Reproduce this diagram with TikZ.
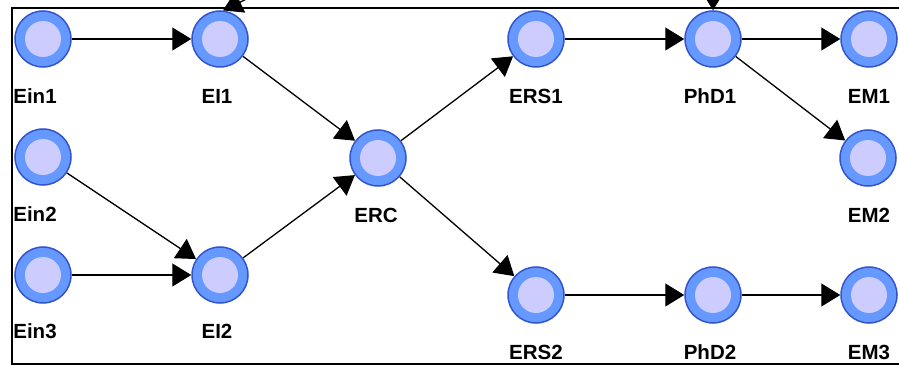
\documentclass[tikz,border=0pt]{standalone}
\usepackage{fontspec}
\setmainfont{Liberation Sans}
\usepackage{tikz}
\usetikzlibrary{arrows.meta,positioning,calc}
\definecolor{ringblue}{RGB}{102,153,255}
\definecolor{edgeblue}{RGB}{51,85,204}
\definecolor{corelav}{RGB}{204,204,255}

\begin{document}
\begin{tikzpicture}[x=1pt,y=-1pt,
    state/.style={circle,draw=edgeblue,line width=1.5pt,fill=ringblue,minimum size=56pt,inner sep=0pt,
        path picture={\fill[corelav] (path picture bounding box.center) circle (18pt);}},
    lbl/.style={font=\bfseries\fontsize{20.5}{20.5}\selectfont,inner sep=0pt},
    edge/.style={-{Triangle[length=19pt,width=23pt]},line width=1.3pt}]
    % Workflow of the evaluation states
    \useasboundingbox (0,0) rectangle (899,366);
    \clip (0,0) rectangle (899,366);
    \draw[line width=2pt] (12,8) rectangle (920,364);

    \node[state] (ein1) at (43,39) {};
    \node[state] (ein2) at (43,157) {};
    \node[state] (ein3) at (43,275) {};
    \node[state] (ei1) at (220,39) {};
    \node[state] (ei2) at (220,275) {};
    \node[state] (erc) at (378,158) {};
    \node[state] (ers1) at (536,39) {};
    \node[state] (ers2) at (536,295) {};
    \node[state] (phd1) at (713,39) {};
    \node[state] (phd2) at (713,295) {};
    \node[state] (em1) at (869,39) {};
    \node[state] (em2) at (868,158) {};
    \node[state] (em3) at (869,295) {};

    \node[lbl] (ein1l) at ($(ein1)+(-8,57)$) {Ein1};
    \node[lbl] (ein2l) at ($(ein2)+(-8,57)$) {Ein2};
    \node[lbl] (ein3l) at ($(ein3)+(-8,56)$) {Ein3};
    \node[lbl] (ei1l) at ($(ei1)+(-3,57)$) {EI1};
    \node[lbl] (ei2l) at ($(ei2)+(-3,56)$) {EI2};
    \node[lbl] (ercl) at ($(erc)+(-2,57)$) {ERC};
    \node[lbl] (ers1l) at ($(ers1)+(0,57)$) {ERS1};
    \node[lbl] (ers2l) at ($(ers2)+(0,57)$) {ERS2};
    \node[lbl] (phd1l) at ($(phd1)+(-3,57)$) {PhD1};
    \node[lbl] (phd2l) at ($(phd2)+(-3,57)$) {PhD2};
    \node[lbl] (em1l) at ($(em1)+(0,57)$) {EM1};
    \node[lbl] (em2l) at ($(em2)+(1,57)$) {EM2};
    \node[lbl] (em3l) at ($(em3)+(0,57)$) {EM3};

    \coordinate (inA) at (290,-22);
    \coordinate (inB) at (713,-40);

    \draw[edge] (inA) -- (ei1.84);
    \draw[edge] (inB) -- (phd1);
    \draw[edge] (ein1) -- (ei1);
    \draw[edge] (ein2) -- (ei2);
    \draw[edge] (ein3) -- (ei2);
    \draw[edge] (ei1) -- (erc);
    \draw[edge] (ei2) -- (erc);
    \draw[edge] (erc) -- (ers1);
    \draw[edge] (erc) -- (ers2);
    \draw[edge] (ers1) -- (phd1);
    \draw[edge] (ers2) -- (phd2);
    \draw[edge] (phd1) -- (em1);
    \draw[edge] (phd1) -- (em2);
    \draw[edge] (phd2) -- (em3);
\end{tikzpicture}
\end{document}
